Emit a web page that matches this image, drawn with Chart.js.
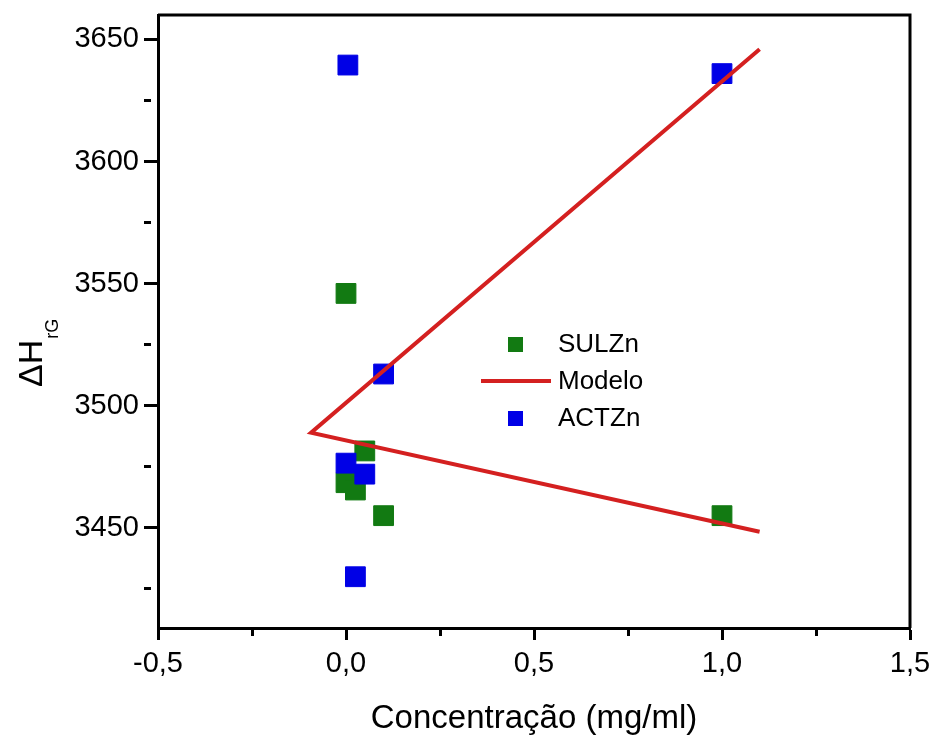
<!DOCTYPE html>
<html>
<head>
<meta charset="utf-8">
<script src="https://cdn.jsdelivr.net/npm/chart.js@4/dist/chart.umd.min.js"></script>
<style>
    html, body { margin: 0; padding: 0; background: #fff; }
    #caja { width: 939px; height: 744px; }
</style>
</head>
<body>
<div id="caja"><canvas id="grafico"></canvas></div>
<script>
// datos
var concSUL = [0, 0.05, 0, 0.025, 0.1, 1.0];
var dhSUL = [3546, 3481.5, 3468.5, 3465.5, 3455, 3455];

var concACT = [0.005, 1.0, 0.1, 0, 0.05, 0.025];
var dhACT = [3639.5, 3636, 3513, 3476.5, 3472, 3430];

var concModelo = [1.1, -0.093, 1.1];
var dhModelo = [3646, 3489, 3448.4];

var ticksX = [-0.5, 0, 0.5, 1.0, 1.5];
var ticksY = [3450, 3500, 3550, 3600, 3650];

var fuente = '"Liberation Sans", Arial, sans-serif';

function puntos(xs, ys) {
    var p = [];
    for (var i = 0; i < xs.length; i++) {
        p.push({ x: xs[i], y: ys[i] });
    }
    return p;
}

function esMayor(lista, v) {
    for (var i = 0; i < lista.length; i++) {
        if (Math.abs(lista[i] - v) < 1e-6) return true;
    }
    return false;
}

// marco de arriba y derecha
var marco = {
    id: 'marco',
    afterDatasetsDraw: function (chart) {
        var a = chart.chartArea;
        var ctx = chart.ctx;
        ctx.save();
        ctx.strokeStyle = '#000';
        ctx.lineWidth = 3;
        ctx.beginPath();
        ctx.moveTo(a.left, a.top);
        ctx.lineTo(a.right, a.top);
        ctx.lineTo(a.right, a.bottom);
        ctx.stroke();
        ctx.restore();
    }
};

// titulo del eje y con subindice
var tituloY = {
    id: 'tituloY',
    afterDraw: function (chart) {
        var ctx = chart.ctx;
        ctx.save();
        ctx.translate(42, 387);
        ctx.rotate(-Math.PI / 2);
        ctx.fillStyle = '#000';
        ctx.textAlign = 'left';
        ctx.textBaseline = 'alphabetic';
        ctx.font = '34px ' + fuente;
        ctx.fillText('\u0394H', 0, 0);
        var w = ctx.measureText('\u0394H').width;
        ctx.font = '18px ' + fuente;
        ctx.fillText('rG', w + 1, 16);
        ctx.restore();
    }
};

// leyenda dentro del area
var leyenda = {
    id: 'leyenda',
    afterDraw: function (chart) {
        var ctx = chart.ctx;
        var xm = 515, xt = 558, y0 = 344, paso = 37;
        ctx.save();
        ctx.font = '26px ' + fuente;
        ctx.textBaseline = 'middle';
        ctx.textAlign = 'left';
        chart.data.datasets.forEach(function (ds, i) {
            var y = y0 + i * paso;
            if (ds.showLine) {
                ctx.strokeStyle = ds.borderColor;
                ctx.lineWidth = 4;
                ctx.beginPath();
                ctx.moveTo(xm - 34, y);
                ctx.lineTo(xm + 36, y);
                ctx.stroke();
            } else {
                ctx.fillStyle = ds.backgroundColor;
                ctx.fillRect(xm - 7, y - 7, 15, 15);
            }
            ctx.fillStyle = '#000';
            ctx.fillText(ds.label, xt, y + 1);
        });
        ctx.restore();
    }
};

var ctxG = document.getElementById('grafico').getContext('2d');
var grafico = new Chart(ctxG, {
    type: 'scatter',
    data: {
        datasets: [{
                label: 'SULZn',
                data: puntos(concSUL, dhSUL),
                backgroundColor: '#127a12',
                borderColor: '#127a12',
                borderWidth: 1,
                pointStyle: 'rect',
                pointRadius: 14,
                order: 2
            },
            {
                label: 'Modelo',
                data: puntos(concModelo, dhModelo),
                showLine: true,
                borderColor: '#d42020',
                backgroundColor: '#d42020',
                borderWidth: 4,
                pointRadius: 0,
                order: 0
            },
            {
                label: 'ACTZn',
                data: puntos(concACT, dhACT),
                backgroundColor: '#0000e6',
                borderColor: '#0000e6',
                borderWidth: 1,
                pointStyle: 'rect',
                pointRadius: 14,
                order: 1
            }
        ]
    },
    options: {
        responsive: true,
        maintainAspectRatio: false,
        animation: false,
        layout: {
            padding: { left: 0, right: 29, top: 13, bottom: 0 }
        },
        plugins: {
            legend: { display: false },
            tooltip: { enabled: false }
        },
        scales: {
            x: {
                type: 'linear',
                min: -0.5,
                max: 1.5,
                afterFit: function (s) { s.height = 116; },
                afterBuildTicks: function (s) {
                    s.ticks = s.ticks.filter(function (t) {
                        return Math.abs(t.value * 4 - Math.round(t.value * 4)) < 1e-6;
                    });
                },
                border: { display: true, color: '#000', width: 3 },
                grid: {
                    drawOnChartArea: false,
                    drawTicks: true,
                    tickLength: 12,
                    tickColor: '#000',
                    tickWidth: 3,
                    tickBorderDash: function (c) {
                        return (c.tick && esMayor(ticksX, c.tick.value)) ? [] : [6, 100];
                    }
                },
                ticks: {
                    stepSize: 0.25,
                    includeBounds: false,
                    color: '#000',
                    padding: 7,
                    font: { family: fuente, size: 29 },
                    maxRotation: 0,
                    autoSkip: false,
                    callback: function (v) {
                        return esMayor(ticksX, v) ? v.toFixed(1).replace('.', ',') : '';
                    }
                },
                title: {
                    display: true,
                    text: 'Concentração (mg/ml)',
                    color: '#000',
                    font: { family: fuente, size: 33 },
                    padding: { top: 0, bottom: 5 }
                }
            },
            y: {
                type: 'linear',
                min: 3409,
                max: 3660,
                afterFit: function (s) {
                    s.width = 158;
                    s.paddingTop = 0;
                    s.paddingBottom = 0;
                },
                afterBuildTicks: function (s) {
                    s.ticks = s.ticks.filter(function (t) { return t.value % 25 === 0; });
                },
                border: { display: true, color: '#000', width: 3 },
                grid: {
                    drawOnChartArea: false,
                    drawTicks: true,
                    tickLength: 14,
                    tickColor: '#000',
                    tickWidth: 3,
                    tickBorderDash: function (c) {
                        return (c.tick && esMayor(ticksY, c.tick.value)) ? [] : [7, 100];
                    }
                },
                ticks: {
                    stepSize: 25,
                    includeBounds: false,
                    color: '#000',
                    padding: 5,
                    font: { family: fuente, size: 29 },
                    autoSkip: false,
                    callback: function (v) {
                        return esMayor(ticksY, v) ? String(v) : '';
                    }
                },
                title: { display: false }
            }
        }
    },
    plugins: [marco, tituloY, leyenda]
});
</script>
</body>
</html>
